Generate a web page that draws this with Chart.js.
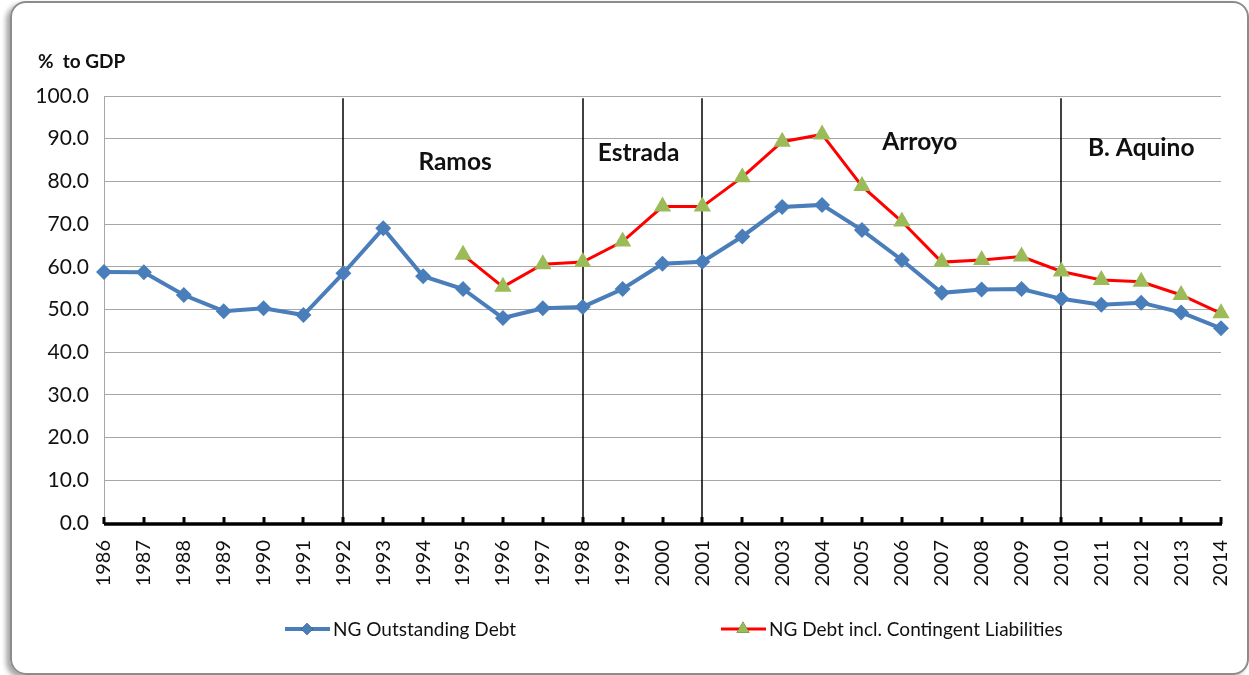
<!DOCTYPE html>
<html>
<head>
<meta charset="utf-8">
<script src="https://cdn.jsdelivr.net/npm/chart.js@4.4.1/dist/chart.umd.min.js"></script>
<style>
  html, body { margin: 0; padding: 0; background: #fff; }
  #wrap { position: relative; width: 1249px; height: 675px; overflow: hidden; }
  #frame {
    position: absolute; left: 10px; top: 1px; width: 1235px; height: 670px;
    border: 2px solid #8c8c8c; border-radius: 16px;
    box-shadow: -4px 3px 5px rgba(0,0,0,0.35);
  }
  #debt-chart { position: absolute; left: 0; top: 0; }
</style>
</head>
<body>
<div id="wrap">
  <div id="frame"></div>
  <canvas id="debt-chart" width="1249" height="675"></canvas>
</div>
<script>
// years on the category axis
const years = [1986, 1987, 1988, 1989, 1990, 1991, 1992, 1993, 1994, 1995,
  1996, 1997, 1998, 1999, 2000, 2001, 2002, 2003, 2004, 2005,
  2006, 2007, 2008, 2009, 2010, 2011, 2012, 2013, 2014];

// NG outstanding debt, % of GDP
const ngDebt = [58.8, 58.7, 53.4, 49.6, 50.3, 48.7, 58.5, 69.0, 57.8, 54.8,
  48.0, 50.3, 50.6, 54.8, 60.7, 61.2, 67.1, 74.0, 74.5, 68.6,
  61.6, 53.9, 54.7, 54.8, 52.5, 51.1, 51.6, 49.3, 45.6];

// NG debt incl. contingent liabilities (starts 1995)
const ngDebtContingent = [null, null, null, null, null, null, null, null, null, 62.8,
  55.3, 60.6, 61.1, 65.9, 74.1, 74.1, 81.0, 89.3, 91.0, 78.9,
  70.6, 61.1, 61.6, 62.4, 58.9, 56.9, 56.5, 53.4, 49.1];

const seriesNames = ['NG Outstanding Debt', 'NG Debt incl. Contingent Liabilities'];

// presidential terms
const termStarts = [1992, 1998, 2001, 2010];
const termNames = ['Ramos', 'Estrada', 'Arroyo', 'B. Aquino'];

const FONT = 'Lato, "Open Sans", sans-serif';
const BLUE = '#4a7ebb';
const RED = '#ff0000';
const GREEN = '#9bbb59';

// where the term names sit (category index, value)
const termLabelAt = [[8.8, 84.5], [13.4, 86.7], [20.45, 89.2], [26.0, 87.8]];

const overlay = {
  id: 'overlay',
  beforeDatasetsDraw(chart) {
    const { ctx, chartArea: a, scales: { x, y } } = chart;
    ctx.save();
    // term dividers
    ctx.strokeStyle = '#000';
    ctx.lineWidth = 1.5;
    termStarts.forEach(yr => {
      const px = Math.round(x.getPixelForValue(years.indexOf(yr)));
      ctx.beginPath();
      ctx.moveTo(px, y.getPixelForValue(99.5));
      ctx.lineTo(px, a.bottom);
      ctx.stroke();
    });
    // heavy x axis with tick marks pointing up
    ctx.lineWidth = 3.5;
    ctx.beginPath();
    ctx.moveTo(a.left, a.bottom + 1);
    ctx.lineTo(a.right + 1, a.bottom + 1);
    ctx.stroke();
    ctx.lineWidth = 3;
    years.forEach((yr, i) => {
      const px = Math.round(x.getPixelForValue(i));
      ctx.beginPath();
      ctx.moveTo(px, a.bottom - 6);
      ctx.lineTo(px, a.bottom + 1);
      ctx.stroke();
    });
    ctx.restore();
  },
  afterDraw(chart) {
    const { ctx, scales: { x, y } } = chart;
    ctx.save();
    ctx.fillStyle = '#111';
    // axis title
    ctx.font = 'bold 19px ' + FONT;
    ctx.textAlign = 'left';
    ctx.textBaseline = 'middle';
    ctx.fillText('%  to GDP', 38, 62);
    // term names
    ctx.font = 'bold 24.5px ' + FONT;
    ctx.textAlign = 'center';
    termNames.forEach((t, i) => {
      ctx.fillText(t, x.getPixelForValue(termLabelAt[i][0]), y.getPixelForValue(termLabelAt[i][1]));
    });
    // legend
    const items = [
      { x: 285, ds: chart.data.datasets[0] },
      { x: 721, ds: chart.data.datasets[1] }
    ];
    ctx.font = '19px ' + FONT;
    ctx.textAlign = 'left';
    items.forEach(it => {
      const ly = 629;
      ctx.strokeStyle = it.ds.borderColor;
      ctx.lineWidth = it.ds.borderWidth;
      ctx.beginPath();
      ctx.moveTo(it.x, ly);
      ctx.lineTo(it.x + 45, ly);
      ctx.stroke();
      Chart.helpers.drawPoint(ctx, {
        pointStyle: it.ds.pointStyle, radius: it.ds.pointRadius * 0.75, rotation: 0,
        borderWidth: 0
      }, it.x + 22, ly);
      ctx.fillStyle = it.ds.pointBackgroundColor;
      ctx.fill();
      ctx.fillStyle = '#111';
      ctx.fillText(it.ds.label, it.x + 48, ly + 1);
    });
    ctx.restore();
  }
};

new Chart('debt-chart', {
  type: 'line',
  data: {
    labels: years.map(String),
    datasets: [{
      label: seriesNames[0],
      data: ngDebt,
      borderColor: BLUE,
      backgroundColor: BLUE,
      pointBackgroundColor: BLUE,
      pointBorderColor: BLUE,
      borderWidth: 4,
      pointStyle: 'rectRot',
      pointRadius: 8,
      pointBorderWidth: 0,
      tension: 0
    }, {
      label: seriesNames[1],
      data: ngDebtContingent,
      borderColor: RED,
      backgroundColor: GREEN,
      pointBackgroundColor: GREEN,
      pointBorderColor: GREEN,
      borderWidth: 3,
      pointStyle: 'triangle',
      pointRadius: 10,
      pointBorderWidth: 0,
      spanGaps: false,
      tension: 0
    }]
  },
  options: {
    responsive: false,
    animation: false,
    layout: { padding: { left: 0, top: 96, right: 28, bottom: 0 } },
    plugins: {
      legend: { display: false },
      tooltip: { enabled: false }
    },
    scales: {
      x: {
        offset: false,
        grid: { display: false },
        border: { display: false },
        ticks: {
          minRotation: 90, maxRotation: 90, padding: 9,
          color: '#111', font: { family: FONT, size: 20 }
        },
        afterFit(s) { s.height = 152; s.paddingLeft = 0; s.paddingRight = 0; }
      },
      y: {
        min: 0, max: 100,
        grid: { color: '#a6a6a6', lineWidth: 1, drawTicks: false },
        border: { display: true, color: '#a6a6a6', width: 1 },
        ticks: {
          stepSize: 10, padding: 15,
          color: '#111', font: { family: FONT, size: 21 },
          callback: v => v.toFixed(1)
        },
        afterFit(s) { s.width = 104; s.paddingTop = 0; s.paddingBottom = 0; }
      }
    }
  },
  plugins: [overlay]
});
</script>
</body>
</html>
